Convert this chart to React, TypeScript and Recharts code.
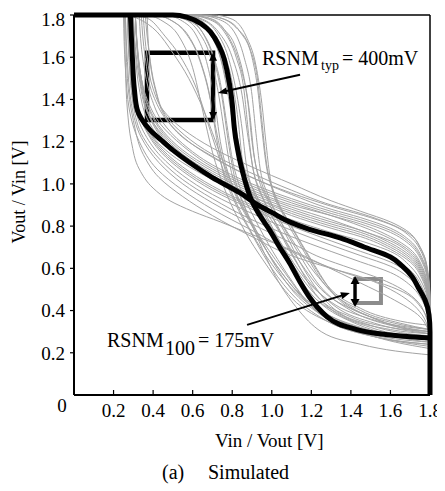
import { LineChart, Line, XAxis, YAxis, ReferenceArea, ReferenceLine } from "recharts";

const FONT = '"Liberation Serif", "Times New Roman", Times, serif';

const TICKS = [0.2, 0.4, 0.6, 0.8, 1.0, 1.2, 1.4, 1.6, 1.8];

// typical cell: Vout vs Vin (x = Vin, y = Vout)
const typVtcB: [number, number][] = [
  [0, 1.8], [0.5, 1.8], [0.57, 1.79], [0.64, 1.76], [0.69, 1.72], [0.73, 1.66], [0.76, 1.59],
  [0.785, 1.48], [0.8, 1.38], [0.81, 1.27], [0.83, 1.15], [0.86, 1.03], [0.89, 0.94], [0.94, 0.85],
  [0.99, 0.78], [1.04, 0.7], [1.09, 0.625], [1.14, 0.54], [1.19, 0.464], [1.28, 0.37], [1.43, 0.31],
  [1.6, 0.284], [1.8, 0.27],
];

// typical cell: other inverter, traced bottom-right -> top-left
const typVtcA: [number, number][] = [
  [1.8, 0], [1.8, 0.3], [1.795, 0.38], [1.775, 0.45], [1.74, 0.51], [1.71, 0.56], [1.66, 0.61],
  [1.6, 0.654], [1.47, 0.7], [1.345, 0.744], [1.19, 0.785], [1.09, 0.82], [1.0, 0.865], [0.93, 0.9],
  [0.84, 0.957], [0.7, 1.03], [0.586, 1.1], [0.5, 1.16], [0.45, 1.2], [0.384, 1.256], [0.34, 1.31],
  [0.32, 1.35], [0.305, 1.45], [0.295, 1.6], [0.285, 1.8],
];

// monte carlo samples, Vout vs Vin
const mcVtcB: [number, number][][] = [
  [[0, 1.8], [0.3, 1.8], [0.38, 1.78], [0.46, 1.7], [0.54, 1.6], [0.62, 1.45], [0.7, 1.22], [0.78, 1.0], [0.88, 0.8], [1.0, 0.62], [1.15, 0.46], [1.35, 0.35], [1.6, 0.28], [1.8, 0.25]],
  [[0, 1.8], [0.35, 1.8], [0.45, 1.77], [0.53, 1.7], [0.6, 1.55], [0.65, 1.35], [0.7, 1.15], [0.76, 0.98], [0.85, 0.8], [0.97, 0.62], [1.1, 0.46], [1.3, 0.34], [1.55, 0.27], [1.8, 0.23]],
  [[0, 1.8], [0.45, 1.8], [0.55, 1.77], [0.62, 1.7], [0.67, 1.58], [0.71, 1.4], [0.74, 1.2], [0.78, 1.05], [0.85, 0.9], [0.95, 0.72], [1.05, 0.58], [1.2, 0.42], [1.4, 0.33], [1.6, 0.29], [1.8, 0.27]],
  [[0, 1.8], [0.5, 1.8], [0.6, 1.78], [0.68, 1.72], [0.74, 1.6], [0.78, 1.45], [0.82, 1.25], [0.86, 1.08], [0.92, 0.95], [1.0, 0.8], [1.08, 0.66], [1.18, 0.5], [1.35, 0.38], [1.6, 0.31], [1.8, 0.29]],
  [[0, 1.8], [0.55, 1.8], [0.65, 1.78], [0.73, 1.72], [0.8, 1.6], [0.85, 1.42], [0.88, 1.22], [0.91, 1.05], [0.96, 0.92], [1.03, 0.8], [1.12, 0.64], [1.22, 0.48], [1.4, 0.37], [1.6, 0.32], [1.8, 0.3]],
  [[0, 1.8], [0.6, 1.8], [0.72, 1.79], [0.82, 1.74], [0.89, 1.64], [0.93, 1.48], [0.95, 1.3], [0.97, 1.12], [1.0, 0.98], [1.06, 0.85], [1.15, 0.7], [1.27, 0.52], [1.45, 0.4], [1.65, 0.34], [1.8, 0.31]],
  [[0, 1.8], [0.58, 1.8], [0.7, 1.78], [0.78, 1.7], [0.84, 1.56], [0.88, 1.38], [0.9, 1.2], [0.93, 1.04], [0.98, 0.92], [1.06, 0.78], [1.16, 0.6], [1.3, 0.42], [1.5, 0.33], [1.8, 0.28]],
  [[0, 1.8], [0.48, 1.8], [0.58, 1.78], [0.66, 1.7], [0.71, 1.58], [0.75, 1.4], [0.78, 1.2], [0.81, 1.04], [0.86, 0.9], [0.93, 0.74], [1.02, 0.56], [1.12, 0.42], [1.25, 0.3], [1.45, 0.24], [1.8, 0.19]],
  [[0, 1.8], [0.5, 1.8], [0.62, 1.78], [0.7, 1.7], [0.75, 1.56], [0.79, 1.36], [0.82, 1.18], [0.86, 1.04], [0.93, 0.92], [1.02, 0.8], [1.12, 0.66], [1.25, 0.5], [1.42, 0.4], [1.62, 0.34], [1.8, 0.31]],
  [[0, 1.8], [0.53, 1.8], [0.63, 1.78], [0.7, 1.72], [0.76, 1.62], [0.8, 1.48], [0.83, 1.3], [0.85, 1.12], [0.89, 0.98], [0.95, 0.86], [1.04, 0.72], [1.14, 0.57], [1.28, 0.42], [1.5, 0.32], [1.8, 0.27]],
  [[0, 1.8], [0.45, 1.8], [0.56, 1.78], [0.64, 1.73], [0.7, 1.62], [0.74, 1.48], [0.77, 1.3], [0.8, 1.12], [0.84, 0.98], [0.9, 0.86], [0.98, 0.72], [1.08, 0.57], [1.2, 0.42], [1.4, 0.31], [1.8, 0.24]],
  [[0, 1.8], [0.7, 1.8], [0.8, 1.78], [0.87, 1.7], [0.92, 1.56], [0.95, 1.38], [0.97, 1.2], [0.99, 1.04], [1.03, 0.92], [1.1, 0.8], [1.2, 0.64], [1.32, 0.47], [1.5, 0.37], [1.8, 0.3]],
  [[0, 1.8], [0.25, 1.8], [0.33, 1.78], [0.42, 1.72], [0.5, 1.62], [0.58, 1.5], [0.66, 1.34], [0.74, 1.14], [0.82, 0.95], [0.92, 0.78], [1.05, 0.6], [1.2, 0.42], [1.45, 0.3], [1.8, 0.22]],
  [[0, 1.8], [0.55, 1.8], [0.66, 1.79], [0.75, 1.74], [0.82, 1.64], [0.86, 1.5], [0.89, 1.32], [0.91, 1.14], [0.95, 1.0], [1.01, 0.88], [1.1, 0.74], [1.2, 0.6], [1.35, 0.45], [1.55, 0.35], [1.8, 0.29]],
  [[0, 1.8], [0.52, 1.8], [0.62, 1.78], [0.7, 1.71], [0.75, 1.6], [0.79, 1.44], [0.82, 1.26], [0.84, 1.1], [0.88, 0.97], [0.94, 0.85], [1.02, 0.72], [1.12, 0.57], [1.24, 0.44], [1.42, 0.34], [1.8, 0.26]],
  [[0, 1.8], [0.62, 1.8], [0.73, 1.78], [0.81, 1.72], [0.86, 1.6], [0.9, 1.42], [0.92, 1.24], [0.94, 1.08], [0.98, 0.95], [1.04, 0.83], [1.13, 0.68], [1.24, 0.52], [1.4, 0.4], [1.6, 0.33], [1.8, 0.3]],
  [[0, 1.8], [0.4, 1.8], [0.5, 1.77], [0.58, 1.7], [0.64, 1.58], [0.69, 1.4], [0.72, 1.22], [0.75, 1.07], [0.81, 0.92], [0.9, 0.76], [1.0, 0.6], [1.12, 0.46], [1.28, 0.35], [1.5, 0.28], [1.8, 0.24]],
  [[0, 1.8], [0.57, 1.8], [0.68, 1.78], [0.76, 1.72], [0.82, 1.6], [0.86, 1.44], [0.88, 1.26], [0.9, 1.1], [0.94, 0.97], [1.0, 0.85], [1.08, 0.7], [1.18, 0.55], [1.32, 0.42], [1.52, 0.34], [1.8, 0.29]],
  [[0, 1.8], [0.46, 1.8], [0.56, 1.78], [0.63, 1.72], [0.69, 1.6], [0.73, 1.43], [0.76, 1.25], [0.79, 1.08], [0.84, 0.94], [0.91, 0.8], [1.0, 0.64], [1.1, 0.5], [1.25, 0.38], [1.45, 0.3], [1.8, 0.25]],
  [[0, 1.8], [0.65, 1.8], [0.76, 1.78], [0.84, 1.72], [0.9, 1.6], [0.93, 1.44], [0.95, 1.26], [0.97, 1.1], [1.01, 0.96], [1.08, 0.83], [1.17, 0.68], [1.28, 0.52], [1.45, 0.41], [1.65, 0.35], [1.8, 0.33]],
  [[0, 1.8], [0.4, 1.8], [0.48, 1.78], [0.56, 1.72], [0.63, 1.6], [0.68, 1.44], [0.72, 1.25], [0.76, 1.08], [0.82, 0.94], [0.9, 0.8], [0.99, 0.66], [1.1, 0.52], [1.25, 0.4], [1.45, 0.32], [1.8, 0.26]],
  [[0, 1.8], [0.54, 1.8], [0.64, 1.78], [0.72, 1.72], [0.78, 1.6], [0.82, 1.44], [0.85, 1.26], [0.87, 1.1], [0.91, 0.96], [0.97, 0.84], [1.06, 0.7], [1.16, 0.56], [1.3, 0.44], [1.5, 0.36], [1.8, 0.31]],
];

// monte carlo samples, other inverter
const mcVtcA: [number, number][][] = [
  [[1.8, 0], [1.8, 0.45], [1.79, 0.58], [1.75, 0.7], [1.68, 0.78], [1.6, 0.82], [1.45, 0.87], [1.3, 0.92], [1.1, 1.0], [0.9, 1.08], [0.7, 1.17], [0.55, 1.26], [0.45, 1.35], [0.4, 1.45], [0.37, 1.6], [0.35, 1.8]],
  [[1.8, 0], [1.8, 0.38], [1.79, 0.5], [1.76, 0.6], [1.7, 0.68], [1.6, 0.74], [1.45, 0.8], [1.3, 0.85], [1.1, 0.91], [0.9, 0.98], [0.7, 1.07], [0.55, 1.16], [0.45, 1.25], [0.38, 1.36], [0.34, 1.5], [0.32, 1.65], [0.31, 1.8]],
  [[1.8, 0], [1.8, 0.33], [1.79, 0.44], [1.76, 0.53], [1.7, 0.61], [1.6, 0.68], [1.45, 0.73], [1.3, 0.77], [1.1, 0.83], [0.9, 0.9], [0.7, 0.99], [0.55, 1.08], [0.45, 1.16], [0.37, 1.26], [0.32, 1.38], [0.3, 1.55], [0.29, 1.8]],
  [[1.8, 0], [1.8, 0.28], [1.79, 0.35], [1.75, 0.42], [1.68, 0.48], [1.55, 0.53], [1.4, 0.57], [1.25, 0.62], [1.1, 0.68], [0.9, 0.78], [0.7, 0.88], [0.55, 0.97], [0.42, 1.07], [0.33, 1.2], [0.28, 1.35], [0.26, 1.55], [0.25, 1.8]],
  [[1.8, 0], [1.8, 0.27], [1.78, 0.33], [1.75, 0.37], [1.6, 0.46], [1.45, 0.53], [1.25, 0.62], [1.09, 0.69], [0.9, 0.76], [0.74, 0.82], [0.6, 0.87], [0.485, 0.92], [0.4, 0.98], [0.33, 1.07], [0.29, 1.2], [0.27, 1.35], [0.26, 1.55], [0.255, 1.8]],
  [[1.8, 0], [1.8, 0.42], [1.79, 0.55], [1.76, 0.65], [1.7, 0.73], [1.6, 0.79], [1.45, 0.84], [1.3, 0.88], [1.1, 0.95], [0.9, 1.03], [0.7, 1.13], [0.55, 1.22], [0.46, 1.32], [0.41, 1.45], [0.38, 1.62], [0.37, 1.8]],
  [[1.8, 0], [1.8, 0.3], [1.79, 0.4], [1.76, 0.48], [1.7, 0.55], [1.6, 0.61], [1.45, 0.66], [1.3, 0.71], [1.1, 0.78], [0.9, 0.86], [0.7, 0.95], [0.55, 1.04], [0.44, 1.13], [0.35, 1.25], [0.3, 1.4], [0.28, 1.6], [0.27, 1.8]],
  [[1.8, 0], [1.8, 0.36], [1.79, 0.47], [1.76, 0.57], [1.7, 0.65], [1.6, 0.71], [1.45, 0.77], [1.3, 0.81], [1.1, 0.87], [0.9, 0.94], [0.7, 1.03], [0.55, 1.12], [0.45, 1.21], [0.38, 1.32], [0.34, 1.46], [0.32, 1.63], [0.31, 1.8]],
  [[1.8, 0], [1.8, 0.29], [1.78, 0.37], [1.74, 0.44], [1.66, 0.5], [1.55, 0.55], [1.4, 0.6], [1.25, 0.65], [1.1, 0.72], [0.9, 0.81], [0.7, 0.91], [0.55, 1.0], [0.43, 1.1], [0.34, 1.22], [0.29, 1.38], [0.27, 1.58], [0.26, 1.8]],
  [[1.8, 0], [1.8, 0.44], [1.79, 0.56], [1.76, 0.67], [1.7, 0.75], [1.62, 0.8], [1.5, 0.84], [1.35, 0.88], [1.15, 0.94], [0.95, 1.01], [0.75, 1.1], [0.58, 1.2], [0.47, 1.3], [0.4, 1.42], [0.36, 1.6], [0.34, 1.8]],
  [[1.8, 0], [1.8, 0.34], [1.79, 0.45], [1.76, 0.55], [1.7, 0.63], [1.6, 0.69], [1.45, 0.75], [1.3, 0.79], [1.1, 0.85], [0.9, 0.93], [0.7, 1.02], [0.55, 1.1], [0.44, 1.18], [0.36, 1.28], [0.31, 1.42], [0.29, 1.6], [0.28, 1.8]],
  [[1.8, 0], [1.8, 0.4], [1.79, 0.53], [1.76, 0.63], [1.7, 0.71], [1.6, 0.77], [1.45, 0.82], [1.3, 0.86], [1.1, 0.92], [0.9, 0.99], [0.7, 1.08], [0.55, 1.18], [0.44, 1.28], [0.37, 1.4], [0.33, 1.56], [0.31, 1.8]],
  [[1.8, 0], [1.8, 0.26], [1.79, 0.32], [1.76, 0.38], [1.7, 0.44], [1.6, 0.5], [1.45, 0.56], [1.3, 0.6], [1.1, 0.66], [0.9, 0.75], [0.7, 0.85], [0.55, 0.94], [0.43, 1.03], [0.35, 1.14], [0.3, 1.3], [0.27, 1.5], [0.26, 1.8]],
  [[1.8, 0], [1.8, 0.38], [1.79, 0.49], [1.76, 0.59], [1.7, 0.67], [1.6, 0.73], [1.45, 0.78], [1.3, 0.83], [1.1, 0.89], [0.9, 0.96], [0.7, 1.05], [0.55, 1.14], [0.45, 1.23], [0.37, 1.34], [0.33, 1.5], [0.31, 1.65], [0.3, 1.8]],
  [[1.8, 0], [1.8, 0.35], [1.79, 0.46], [1.76, 0.56], [1.7, 0.64], [1.6, 0.7], [1.45, 0.76], [1.3, 0.8], [1.1, 0.86], [0.9, 0.94], [0.7, 1.03], [0.55, 1.12], [0.44, 1.21], [0.37, 1.31], [0.33, 1.45], [0.31, 1.62], [0.3, 1.8]],
  [[1.8, 0], [1.8, 0.41], [1.79, 0.54], [1.76, 0.64], [1.7, 0.72], [1.6, 0.78], [1.45, 0.83], [1.3, 0.87], [1.1, 0.93], [0.9, 1.0], [0.7, 1.09], [0.55, 1.19], [0.45, 1.29], [0.39, 1.41], [0.35, 1.58], [0.33, 1.8]],
  [[1.8, 0], [1.8, 0.31], [1.79, 0.41], [1.76, 0.5], [1.7, 0.57], [1.6, 0.63], [1.45, 0.68], [1.3, 0.73], [1.1, 0.8], [0.9, 0.88], [0.7, 0.97], [0.55, 1.06], [0.44, 1.15], [0.36, 1.26], [0.31, 1.4], [0.29, 1.6], [0.28, 1.8]],
  [[1.8, 0], [1.8, 0.37], [1.79, 0.48], [1.76, 0.58], [1.7, 0.66], [1.6, 0.72], [1.45, 0.78], [1.3, 0.82], [1.1, 0.88], [0.9, 0.95], [0.7, 1.04], [0.55, 1.13], [0.45, 1.22], [0.38, 1.33], [0.34, 1.48], [0.32, 1.64], [0.31, 1.8]],
  [[1.8, 0], [1.8, 0.43], [1.79, 0.57], [1.76, 0.68], [1.7, 0.76], [1.6, 0.81], [1.45, 0.86], [1.3, 0.9], [1.1, 0.97], [0.9, 1.05], [0.7, 1.14], [0.56, 1.23], [0.46, 1.33], [0.41, 1.46], [0.38, 1.62], [0.36, 1.8]],
  [[1.8, 0], [1.8, 0.32], [1.79, 0.42], [1.76, 0.51], [1.7, 0.59], [1.6, 0.65], [1.45, 0.71], [1.3, 0.75], [1.1, 0.81], [0.9, 0.89], [0.7, 0.98], [0.55, 1.07], [0.45, 1.15], [0.37, 1.25], [0.32, 1.38], [0.3, 1.56], [0.29, 1.8]],
  [[1.8, 0], [1.8, 0.28], [1.79, 0.37], [1.76, 0.45], [1.7, 0.52], [1.6, 0.58], [1.45, 0.63], [1.3, 0.68], [1.1, 0.75], [0.9, 0.83], [0.7, 0.93], [0.55, 1.02], [0.44, 1.11], [0.35, 1.22], [0.3, 1.37], [0.28, 1.56], [0.27, 1.8]],
  [[1.8, 0], [1.8, 0.39], [1.79, 0.51], [1.76, 0.61], [1.7, 0.69], [1.6, 0.75], [1.45, 0.81], [1.3, 0.85], [1.1, 0.9], [0.9, 0.97], [0.7, 1.06], [0.55, 1.15], [0.45, 1.24], [0.38, 1.35], [0.34, 1.5], [0.32, 1.66], [0.31, 1.8]],
];

// noise margin boxes (V)
const typBox = { x1: 0.369, x2: 0.703, y1: 1.303, y2: 1.621 };
const worstBox = { x1: 1.421, x2: 1.552, y1: 0.436, y2: 0.55 };
// arrows from labels to boxes
const typPointer = [{ x: 1.143, y: 1.517 }, { x: 0.728, y: 1.431 }];
const worstPointer = [{ x: 0.875, y: 0.332 }, { x: 1.395, y: 0.483 }];
const worstArrow = [{ x: 1.421, y: 0.564 }, { x: 1.421, y: 0.417 }];

const toPts = (arr: [number, number][]) => arr.map(([x, y]) => ({ x, y }));

// eslint-disable-next-line @typescript-eslint/no-explicit-any
function XTick({ x, y, payload }: any) {
  return (
    <g>
      <line x1={x} y1={y} x2={x} y2={y - 5} stroke="#000" strokeWidth={1.2} />
      <text x={x} y={y + 22} textAnchor="middle" fontSize={19} fill="#000">
        {Number(payload.value).toFixed(1)}
      </text>
    </g>
  );
}

function arrow(color: string, width: number, headLen: number, headW: number, both: boolean) {
  // eslint-disable-next-line @typescript-eslint/no-explicit-any
  return (p: any) => {
    const { x1, y1, x2, y2 } = p;
    const len = Math.hypot(x2 - x1, y2 - y1) || 1;
    const ux = (x2 - x1) / len;
    const uy = (y2 - y1) / len;
    const head = (tx: number, ty: number, dx: number, dy: number) => {
      const bx = tx - dx * headLen;
      const by = ty - dy * headLen;
      const px = (-dy * headW) / 2;
      const py = (dx * headW) / 2;
      return `${tx},${ty} ${bx + px},${by + py} ${bx - px},${by - py}`;
    };
    const sx = both ? x1 + ux * headLen * 0.7 : x1;
    const sy = both ? y1 + uy * headLen * 0.7 : y1;
    return (
      <g>
        <line x1={sx} y1={sy} x2={x2 - ux * headLen * 0.7} y2={y2 - uy * headLen * 0.7} stroke={color} strokeWidth={width} />
        <polygon points={head(x2, y2, ux, uy)} fill={color} />
        {both && <polygon points={head(x1, y1, -ux, -uy)} fill={color} />}
      </g>
    );
  };
}

export default function App() {
  return (
    <div style={{ position: "relative", width: 437, height: 480, fontFamily: FONT }}>
      <LineChart width={437} height={480} margin={{ top: 7, right: 15, left: 0, bottom: 63 }}>
        <XAxis
          dataKey="x"
          type="number"
          domain={[0, 1.8]}
          ticks={TICKS}
          tick={<XTick />}
          tickLine={false}
          tickSize={0}
          tickMargin={0}
          height={30}
          axisLine={{ stroke: "#000", strokeWidth: 2 }}
        />
        <YAxis
          dataKey="y"
          type="number"
          domain={[0, 1.8]}
          ticks={TICKS}
          width={66}
          tickSize={4}
          tickMargin={5}
          tickFormatter={(v: number) => v.toFixed(1)}
          tick={{ fontSize: 19, fill: "#000" }}
          tickLine={{ stroke: "#000", strokeWidth: 1.2 }}
          axisLine={{ stroke: "#000", strokeWidth: 2 }}
        />
        <ReferenceLine y={1.8} stroke="#000" strokeWidth={1.5} />
        <ReferenceLine x={1.8} stroke="#000" strokeWidth={1.5} />

        {mcVtcB.map((c, i) => (
          <Line key={`b${i}`} data={toPts(c)} dataKey="y" type="monotoneX" stroke="#a3a3a3" strokeWidth={1} dot={false} isAnimationActive={false} />
        ))}
        {mcVtcA.map((c, i) => (
          <Line key={`a${i}`} data={toPts(c)} dataKey="y" type="monotoneY" stroke="#a3a3a3" strokeWidth={1} dot={false} isAnimationActive={false} />
        ))}
        <Line data={toPts(typVtcB)} dataKey="y" type="monotoneX" stroke="#000" strokeWidth={5} dot={false} isAnimationActive={false} />
        <Line data={toPts(typVtcA)} dataKey="y" type="monotoneY" stroke="#000" strokeWidth={5} dot={false} isAnimationActive={false} />

        <ReferenceArea {...typBox} fill="none" stroke="#000" strokeWidth={4.5} />
        <ReferenceArea {...worstBox} fill="none" stroke="#8c8c8c" strokeWidth={4} />
        <ReferenceLine
          segment={[{ x: typBox.x2, y: typBox.y2 }, { x: typBox.x2, y: typBox.y1 }]}
          shape={arrow("#000", 3, 8, 8, true)}
        />
        <ReferenceLine segment={worstArrow} shape={arrow("#000", 3, 8, 9, true)} />
        <ReferenceLine segment={typPointer} shape={arrow("#000", 2, 9, 7, false)} />
        <ReferenceLine segment={worstPointer} shape={arrow("#000", 2, 9, 7, false)} />
      </LineChart>

      <svg
        width={437}
        height={480}
        style={{ position: "absolute", left: 0, top: 0, pointerEvents: "none", overflow: "visible" }}
        fontFamily={FONT}
        fill="#000"
      >
        <text x={54} y={404} fontSize={19} textAnchor="middle">0</text>
        <text x={207} y={439} fontSize={19}>Vin / Vout [V]</text>
        <text x={17} y={184} fontSize={18} textAnchor="middle" transform="rotate(-90 17 184)">Vout / Vin [V]</text>
        <text x={154} y={471} fontSize={20}>(a)</text>
        <text x={200} y={471} fontSize={20}>Simulated</text>

        <text x={254} y={57} fontSize={20}>RSNM</text>
        <text x={313} y={62} fontSize={14}>typ</text>
        <text x={334} y={57} fontSize={20}>= 400mV</text>

        <text x={99} y={339} fontSize={20}>RSNM</text>
        <text x={157} y={347} fontSize={20}>100</text>
        <text x={190} y={339} fontSize={20}>= 175mV</text>
      </svg>
    </div>
  );
}
